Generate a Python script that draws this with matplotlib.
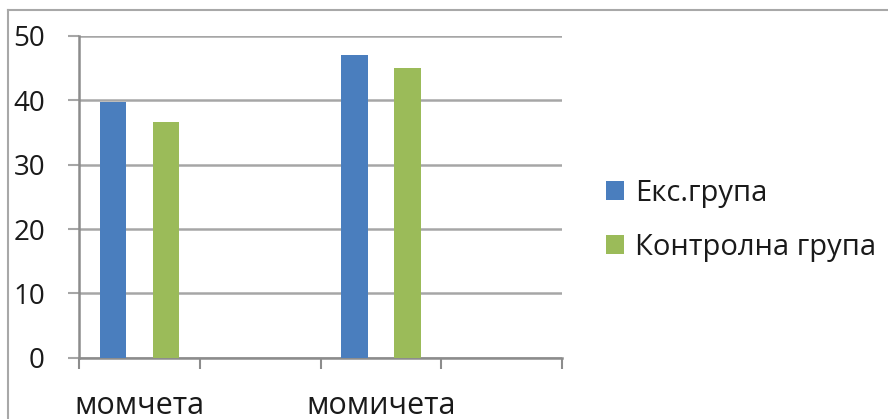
import matplotlib
matplotlib.use("Agg")
import matplotlib.pyplot as plt
from matplotlib.lines import Line2D
from matplotlib.patches import Patch

# Data
categories = ["момчета", "", "момичета", ""]
series_names = ["Екс.група", "Контролна група"]
exp_group = [39.8, None, 47.1, None]
control_group = [36.6, None, 45.0, None]
y_ticks = [0, 10, 20, 30, 40, 50]

colors = ["#4A7EBE", "#9BBB59"]
grid_color = "#A6A6A6"
axis_color = "#8C8C8C"

plt.rcParams["font.family"] = ["Open Sans", "DejaVu Sans"]

W, H = 888, 419
PT = 72 / 100  # points per pixel at dpi 100
fig = plt.figure(figsize=(W / 100, H / 100), dpi=100)

left, right, top, bottom = 79, 562, 36, 357.7
ax = fig.add_axes([left / W, (H - bottom) / H, (right - left) / W, (bottom - top) / H])

x = list(range(len(categories)))
width = 0.22
offset = 0.22
for vals, name, col, sgn in ((exp_group, series_names[0], colors[0], -1),
                             (control_group, series_names[1], colors[1], 1)):
    xs = [xi + sgn * offset for xi, v in zip(x, vals) if v is not None]
    ys = [v for v in vals if v is not None]
    ax.bar(xs, ys, width=width, color=col, label=name, zorder=3)

ax.set_xlim(-0.5, len(categories) - 0.5)
ax.set_ylim(0, 50)

# y axis: gridlines and outward ticks
ax.set_yticks(y_ticks)
ax.tick_params(axis="y", length=11 * PT, width=1.5, color=grid_color, pad=23 * PT,
               labelsize=20, labelcolor="#1a1a1a")
ax.yaxis.grid(True, color=grid_color, linewidth=1.8, zorder=0)

# x axis: boundary ticks between categories, labels at centres
ax.set_xticks([i - 0.5 for i in range(len(categories) + 1)])
ax.set_xticklabels([])
ax.tick_params(axis="x", which="major", length=11.5 * PT, width=1.5, color=axis_color)
ax.set_xticks(x, minor=True)
ax.set_xticklabels(categories, minor=True)
ax.tick_params(axis="x", which="minor", length=0, pad=33 * PT, labelsize=22,
               labelcolor="#1a1a1a")

for s in ("top", "right"):
    ax.spines[s].set_visible(False)
for s in ("left", "bottom"):
    ax.spines[s].set_color(axis_color)
    ax.spines[s].set_linewidth(1.8)
ax.spines["left"].set_zorder(4)

# legend
handles = [Patch(facecolor=c, edgecolor="none") for c in colors]
fs = 21
fs_px = fs * 100 / 72
leg = fig.legend(handles, series_names, loc="upper left",
                 bbox_to_anchor=(606 / W, 1 - 179 / H), frameon=False,
                 fontsize=fs, handlelength=18 / fs_px, handleheight=18 / fs_px,
                 handletextpad=11 / fs_px, labelspacing=0.85, borderpad=0,
                 borderaxespad=0)
for t in leg.get_texts():
    t.set_color("#1a1a1a")

# chart area border
fig.add_artist(Line2D([8 / W, 1.01], [1 - 10 / H, 1 - 10 / H],
                      transform=fig.transFigure, color="#A8A8A8", linewidth=1.5))
fig.add_artist(Line2D([8 / W, 8 / W], [1 - 10 / H, -0.01],
                      transform=fig.transFigure, color="#A8A8A8", linewidth=1.5))

fig.savefig("out.png", dpi=100, facecolor="white")
